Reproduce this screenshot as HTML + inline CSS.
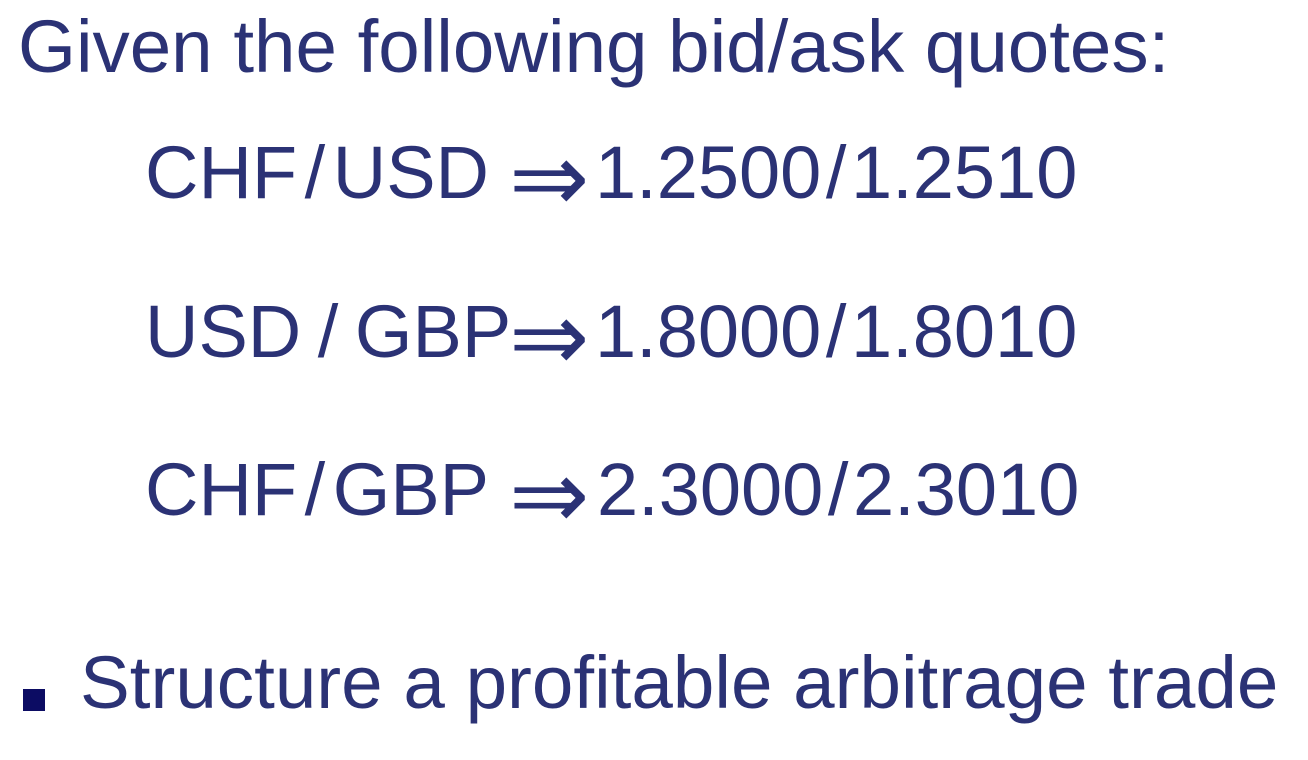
<!DOCTYPE html>
<html>
<head>
<meta charset="utf-8">
<style>
  html, body { margin: 0; padding: 0; background: #ffffff; }
  body { width: 1308px; height: 760px; position: relative; overflow: hidden;
         font-family: "Liberation Sans", "DejaVu Sans", sans-serif; color: #2b3275; }
  .t { position: absolute; white-space: nowrap; line-height: 1; }
  .title { font-size: 74.5px; left: 18px; top: 10px; }
  .q { font-size: 74px; word-spacing: -13px; }
  .n { word-spacing: -16px; }
  .arrow { font-family: "DejaVu Sans", sans-serif; font-size: 96px; font-weight: 300; }
  .bullet { position: absolute; left: 23px; top: 689px; width: 22px; height: 22px; background: #0c0c63; }
  .last { font-size: 74.6px; left: 80px; top: 645px; }
</style>
</head>
<body>
  <div class="t title">Given the following bid/ask quotes:</div>

  <div class="t q" style="left:145px; top:136px;">CHF / USD</div>
  <div class="t arrow" style="left:509px; top:130px;">⇒</div>
  <div class="t q n" style="left:595px; top:136px;">1.2500 / 1.2510</div>

  <div class="t q" style="left:145px; top:295px; word-spacing:-4px;">USD / GBP</div>
  <div class="t arrow" style="left:509px; top:289px;">⇒</div>
  <div class="t q n" style="left:595px; top:295px;">1.8000 / 1.8010</div>

  <div class="t q" style="left:145px; top:453px;">CHF / GBP</div>
  <div class="t arrow" style="left:509px; top:447px;">⇒</div>
  <div class="t q n" style="left:597px; top:453px;">2.3000 / 2.3010</div>

  <div class="bullet"></div>
  <div class="t last">Structure a profitable arbitrage trade</div>
</body>
</html>
